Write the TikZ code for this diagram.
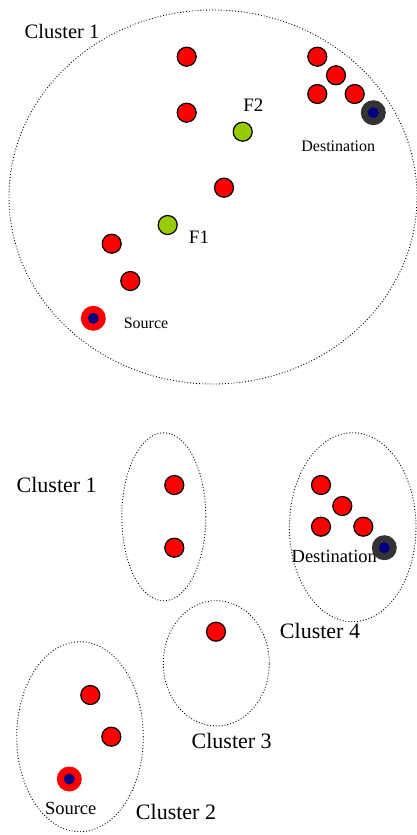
\documentclass[tikz,border=0pt]{standalone}
\usepackage{fontspec}
\setmainfont{Liberation Serif}
\usepackage{tikz}
\definecolor{fgreen}{RGB}{153,204,0}
\definecolor{dgray}{RGB}{51,51,51}
\definecolor{dblue}{RGB}{0,0,128}
\tikzset{
  sensor/.style={circle, draw=black, fill=red, line width=1.2pt, minimum size=19pt, inner sep=0pt},
  fwd/.style={sensor, fill=fgreen},
  src/.style={circle, fill=red, minimum size=25pt, inner sep=0pt},
  dst/.style={circle, fill=dgray, minimum size=25pt, inner sep=0pt},
  core/.style={circle, fill=dblue, minimum size=11pt, inner sep=0pt},
  cluster/.style={draw=black, dotted, line width=0.9pt},
  biglbl/.style={font=\fontsize{22}{22}\selectfont},
  midlbl/.style={font=\fontsize{19}{19}\selectfont},
  smalllbl/.style={font=\fontsize{16}{16}\selectfont}
}
\begin{document}
\begin{tikzpicture}[x=1pt,y=-1pt]
   \useasboundingbox (0,0) rectangle (417,835);
   % one big cluster
   \draw[cluster] (213,197) ellipse [x radius=204pt, y radius=187pt];
   \node[biglbl, font=\fontsize{20.5}{20.5}\selectfont] (c0) at (62,31) {Cluster 1};
   \foreach \x/\y [count=\i] in {186.7/56.7, 186.7/112.7, 224/187.7, 111.7/243.7, 130.3/281,
                                317.3/56.7, 336/75.3, 317.3/94, 354.7/94}
      \node[sensor] (n\i) at (\x,\y) {};
   \node[fwd] (f1) at (167.7,225) {};
   \node[fwd] (f2) at (242.7,131.7) {};
   \node[midlbl] (f1l) at (199,237.7) {F1};
   \node[midlbl] (f2l) at (253.3,105) {F2};
   \node[src] (s) at (93.3,318.3) {};
   \node[core] (sc) at (s) {};
   \node[smalllbl] (sl) at (146,323.3) {Source};
   \node[dst] (d) at (373.3,112.7) {};
   \node[core] (dc) at (d) {};
   \node[smalllbl] (dl) at (338.3,146.7) {Destination};
   % four clusters
   \draw[cluster] (163.8,516.8) ellipse [x radius=42pt, y radius=84pt];
   \draw[cluster] (80,736.7) ellipse [x radius=63.3pt, y radius=95pt];
   \draw[cluster] (216.3,663.3) ellipse [x radius=53pt, y radius=62.7pt];
   \draw[cluster] (352.7,527.2) ellipse [x radius=63.3pt, y radius=94.5pt];
   \foreach \x/\y [count=\i] in {174.3/485, 174.3/547.7, 90.3/695, 111.3/736.7, 216/631.7,
                                321/485, 342.3/506, 321/526.7, 363.3/526.7}
      \node[sensor] (m\i) at (\x,\y) {};
   \node[biglbl] (c1) at (56.7,485) {Cluster 1};
   \node[biglbl] (c2) at (176,811.7) {Cluster 2};
   \node[biglbl] (c3) at (231.7,740.7) {Cluster 3};
   \node[biglbl] (c4) at (320,630.7) {Cluster 4};
   \node[src] (bs) at (69.3,779) {};
   \node[core] (bsc) at (bs) {};
   \node[midlbl, font=\fontsize{18.5}{18.5}\selectfont] (bsl) at (70.7,808.3) {Source};
   \node[midlbl, font=\fontsize{18.5}{18.5}\selectfont] (bdl) at (334.3,556) {Destination};
   \node[dst] (bd) at (384.3,547.7) {};
   \node[core] (bdc) at (bd) {};
\end{tikzpicture}
\end{document}
